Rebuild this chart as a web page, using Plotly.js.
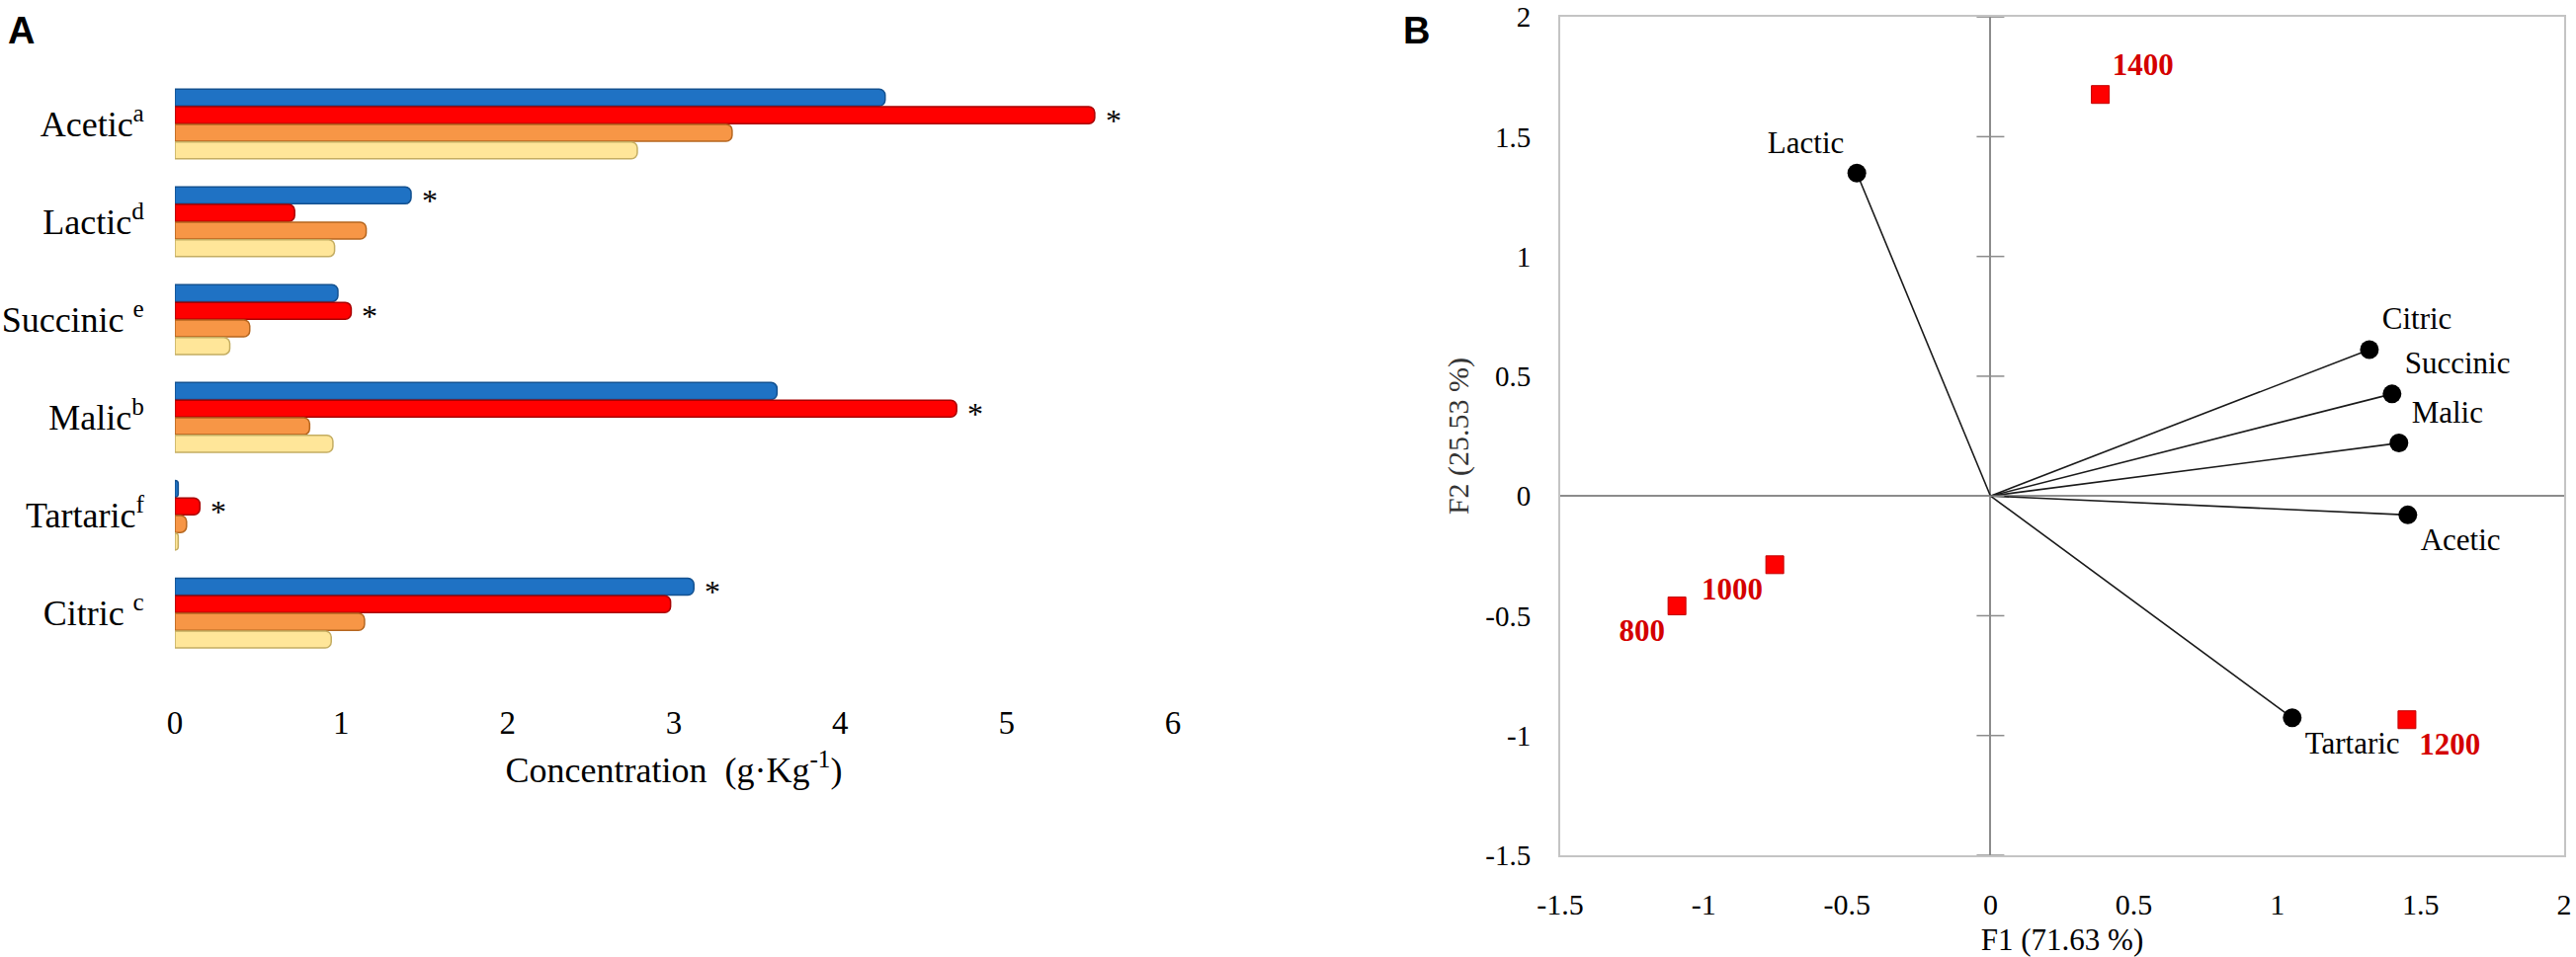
<!DOCTYPE html>
<html>
<head>
<meta charset="utf-8">
<script src="https://cdn.plot.ly/plotly-3.0.1.min.js"></script>
<style>
  html, body { margin: 0; padding: 0; background: #ffffff; }
  #chart { width: 2607px; height: 969px; }
</style>
</head>
<body>
<div id="chart"></div>
<script>
// ---------- Panel A data ----------
const categories = ['Acetic', 'Lactic', 'Succinic', 'Malic', 'Tartaric', 'Citric'];
const categoryTickLabels = ['Acetic<sup>a</sup>', 'Lactic<sup>d</sup>', 'Succinic <sup>e</sup>', 'Malic<sup>b</sup>', 'Tartaric<sup>f</sup>', 'Citric <sup>c</sup>'];
const seriesNames = ['1400', '1200', '1000', '800'];
const values1400 = [4.27, 1.42, 0.98, 3.62, 0.02, 3.12];
const values1200 = [5.53, 0.72, 1.06, 4.70, 0.15, 2.98];
const values1000 = [3.35, 1.15, 0.45, 0.81, 0.07, 1.14];
const values800  = [2.78, 0.96, 0.33, 0.95, 0.02, 0.94];
const stars1400 = ['', '*', '', '', '', '*'];
const stars1200 = ['*', '', '*', '*', '*', ''];
const concTicks = [0, 1, 2, 3, 4, 5, 6];

// ---------- Panel B data ----------
const varNames = ['Citric', 'Succinic', 'Malic', 'Acetic', 'Lactic', 'Tartaric'];
const varF1 = [1.321, 1.400, 1.424, 1.455, -0.466, 1.052];
const varF2 = [0.611, 0.426, 0.221, -0.079, 1.348, -0.926];
const varLabelPos = ['top right', 'top right', 'top right', 'bottom right', 'top left', 'bottom right'];
const sampleNames = ['800', '1000', '1200', '1400'];
const sampleF1 = [-1.093, -0.752, 1.452, 0.383];
const sampleF2 = [-0.459, -0.287, -0.934, 1.676];
const sampleLabelPos = ['bottom left', 'bottom left', 'bottom right', 'top right'];
const pcaTicks = [-1.5, -1, -0.5, 0, 0.5, 1, 1.5, 2];

// ---------- styles ----------
const SERIF = 'Liberation Serif, Times New Roman, serif';
const barFill = ['#1f72c4', '#ff0000', '#f79646', '#ffe699'];
const barEdge = ['#135190', '#a80000', '#b5661f', '#c4ad62'];

const W = 2607, H = 969;
const px = v => v / W;
const py = v => 1 - v / H;

// Panel A geometry (pixels)
const aTop = 76, aBottom = 694;
const aRange = [5.74, -0.5];
const BARGAP = 0.28;
const slotPx = (aBottom - aTop) / (aRange[0] - aRange[1]);
const barPx = slotPx * (1 - BARGAP) / seriesNames.length;

function barTrace(vals, i) {
  return {
    type: 'bar', orientation: 'h',
    name: seriesNames[i],
    x: vals, y: categories,
    xaxis: 'x', yaxis: 'y',
    marker: { color: barFill[i], line: { color: barEdge[i], width: 1.5 }, cornerradius: 6 },
    hoverinfo: 'x+y+name'
  };
}

const seriesValues = [values1400, values1200, values1000, values800];
const traces = seriesValues.map((v, i) => barTrace(v, i));

// significance asterisks next to the bar ends
const starAnnotations = [];
[[stars1400, 0, values1400], [stars1200, 1, values1200]].forEach(([stars, si, vals]) => {
  stars.forEach((s, ci) => {
    if (!s) return;
    starAnnotations.push({
      text: s, xref: 'x', yref: 'y', x: vals[ci], y: categories[ci],
      xanchor: 'left', yanchor: 'middle', showarrow: false,
      xshift: 9, yshift: -(si - (seriesNames.length - 1) / 2) * barPx - 5,
      font: { family: SERIF, size: 32, color: '#000000' }
    });
  });
});

// vectors from origin to each variable
const vecX = [], vecY = [];
varF1.forEach((v, i) => { vecX.push(0, v, null); vecY.push(0, varF2[i], null); });
traces.push({
  type: 'scatter', mode: 'lines', x: vecX, y: vecY, xaxis: 'x2', yaxis: 'y2',
  line: { color: '#1a1a1a', width: 1.6 }, hoverinfo: 'skip', showlegend: false
});
// tick marks on the vertical zero axis
traces.push({
  type: 'scatter', mode: 'markers', x: pcaTicks.map(() => 0), y: pcaTicks, xaxis: 'x2', yaxis: 'y2',
  marker: { symbol: 'line-ew', size: 20, line: { color: '#8c8c8c', width: 1.5 } },
  hoverinfo: 'skip', showlegend: false, cliponaxis: false
});
traces.push({
  type: 'scatter', mode: 'markers+text', name: 'Variables',
  x: varF1, y: varF2, text: varNames, textposition: varLabelPos,
  textfont: { family: SERIF, size: 31, color: '#000000' },
  xaxis: 'x2', yaxis: 'y2', cliponaxis: false,
  marker: { symbol: 'circle', size: 19, color: '#000000' }
});
traces.push({
  type: 'scatter', mode: 'markers+text', name: 'Samples',
  x: sampleF1, y: sampleF2, text: sampleNames.map(s => '<b>' + s + '</b>'), textposition: sampleLabelPos,
  textfont: { family: SERIF, size: 31, color: '#d40000' },
  xaxis: 'x2', yaxis: 'y2', cliponaxis: false,
  marker: { symbol: 'square', size: 18, color: '#ff0000', line: { color: '#c00000', width: 1 } }
});

const layout = {
  width: W, height: H,
  margin: { l: 0, r: 0, t: 0, b: 0 },
  paper_bgcolor: '#ffffff', plot_bgcolor: 'rgba(0,0,0,0)',
  showlegend: false,
  barmode: 'group', bargap: BARGAP, bargroupgap: 0.04,
  font: { family: SERIF, color: '#000000' },
  xaxis: {
    domain: [px(177), px(1187)], range: [0, 6],
    tickvals: concTicks, ticktext: concTicks.map(String),
    showgrid: false, zeroline: false, showline: false,
    ticks: 'outside', ticklen: 8, tickcolor: 'rgba(0,0,0,0)',
    tickfont: { family: SERIF, size: 33, color: '#000000' },
    title: { text: 'Concentration  (g·Kg<sup>-1</sup>)', font: { family: SERIF, size: 36, color: '#000000' }, standoff: 18 },
    anchor: 'y'
  },
  yaxis: {
    domain: [py(aBottom), py(aTop)], range: aRange,
    type: 'category',
    tickvals: categories, ticktext: categoryTickLabels,
    showgrid: false, zeroline: false, showline: false,
    ticks: 'outside', ticklen: 23, tickcolor: 'rgba(0,0,0,0)',
    tickfont: { family: SERIF, size: 36, color: '#000000' },
    anchor: 'x'
  },
  xaxis2: {
    domain: [px(1579), px(2595)], range: [-1.5, 2],
    tickvals: pcaTicks, ticktext: pcaTicks.map(String),
    showgrid: false, zeroline: true, zerolinecolor: '#8c8c8c', zerolinewidth: 1.5,
    showline: true, mirror: true, linecolor: '#c4c4c4', linewidth: 2,
    ticks: 'outside', ticklen: 22, tickcolor: 'rgba(0,0,0,0)',
    ticklabeloverflow: 'allow',
    tickfont: { family: SERIF, size: 30, color: '#000000' },
    title: { text: 'F1 (71.63 %)', font: { family: SERIF, size: 31, color: '#000000' } },
    anchor: 'y2'
  },
  yaxis2: {
    domain: [py(866), py(17)], range: [-1.5, 2.0005],
    tickvals: pcaTicks, ticktext: pcaTicks.map(String),
    showgrid: false, zeroline: true, zerolinecolor: '#8c8c8c', zerolinewidth: 1.5,
    showline: true, mirror: true, linecolor: '#c4c4c4', linewidth: 2,
    ticks: 'outside', ticklen: 22, tickcolor: 'rgba(0,0,0,0)',
    ticklabeloverflow: 'allow',
    tickfont: { family: SERIF, size: 29, color: '#000000' },
    title: { text: 'F2 (25.53 %)', font: { family: SERIF, size: 30, color: '#333333' }, standoff: 8 },
    anchor: 'x2'
  },
  annotations: [
    { text: '<b>A</b>', xref: 'paper', yref: 'paper', x: px(6), y: py(8), xanchor: 'left', yanchor: 'top',
      showarrow: false, font: { family: 'Liberation Sans, Arial, sans-serif', size: 38, color: '#000000' } },
    { text: '<b>B</b>', xref: 'paper', yref: 'paper', x: px(1418), y: py(8), xanchor: 'left', yanchor: 'top',
      showarrow: false, font: { family: 'Liberation Sans, Arial, sans-serif', size: 38, color: '#000000' } }
  ].concat(starAnnotations)
};

Plotly.newPlot('chart', traces, layout, { displayModeBar: false, responsive: false });
</script>
</body>
</html>
